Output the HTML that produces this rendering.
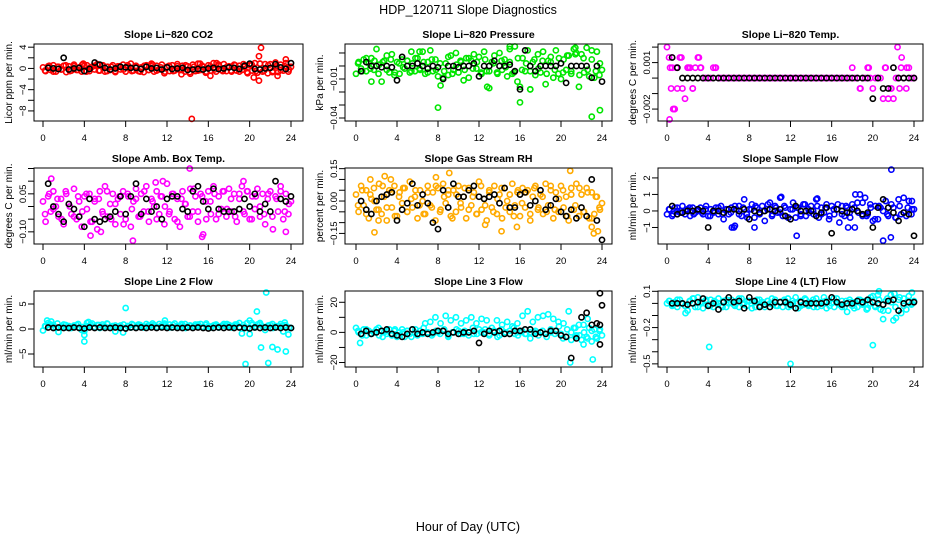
<!DOCTYPE html>
<html><head><meta charset="utf-8"><style>
body{margin:0;background:#fff}
svg{display:block;font-family:"Liberation Sans",sans-serif}
</style></head><body>
<svg id="chart" width="936" height="540" viewBox="0 0 936 540">
<rect x="0" y="0" width="936" height="540" fill="#fff"/>
<text x="468" y="14" text-anchor="middle" font-size="12.5">HDP_120711  Slope Diagnostics</text>
<text x="468" y="531" text-anchor="middle" font-size="12.5">Hour of Day (UTC)</text>
</svg>
<script>
const xTicks=[0,4,8,12,16,20,24];
const xTickLabels=['0','4','8','12','16','20','24'];

const co2Vals=[0.2,-0.5,0.4,-0.3,0.6,-0.6,0.3,-0.2,0.5,-0.7,0.4,-0.4,0.7,-0.3,0.2,-0.6,0.5,0.6,-0.5,0.3,-0.2,0.8,-0.4,0.5,-0.6,0.3,-0.3,0.6,-0.5,0.4,-0.2,0.7,-0.6,0.3,0.9,-0.4,0.5,-0.5,0.2,-0.7,0.6,-0.3,0.4,-0.6,0.5,-0.2,0.7,-0.9,0.3,-0.5,0.6,-0.4,0.8,-0.3,0.5,-0.6,0.4,-1.0,0.7,-0.5,0.9,-0.3,0.3,-0.8,0.6,-0.4,1.0,-0.6,0.5,-0.3,0.8,-0.5,0.4,-0.6,0.7,-0.4,0.5,-0.3,0.3,-0.7,0.6,-0.4,1.0,-0.8,0.9,-0.6,0.8,-0.9,0.8,-0.5,1.1,-0.7,0.7,-0.4,1.0,-0.6,0.3];
const co2Vals2=[-0.4,0.5,-0.6,0.3,-0.2,0.6,-0.5,0.4,-0.3,0.7,-0.6,0.2,0.5,-0.4,0.6,-0.5,0.3,-0.7,0.4,-0.2,0.6,-0.5,0.3,-0.6,0.5,-0.3,0.7,-0.4,0.2,-0.6,0.5,-0.5,0.4,-0.3,0.6,-0.7,0.3,-0.4,0.5,-0.6,0.4,-0.2,0.7,-0.5,0.3,-0.4,0.6,-0.6,0.8,-0.9,0.7,-0.5,0.9,-0.4,0.6,-0.7,0.5,-0.3,0.4,-0.2];
const co2Out=[[14.4,-9.5],[21.1,3.9],[20.9,2.3],[20.4,-1.7],[20.9,-2.3],[16.2,-1.4],[13.4,-1.1],[10.5,0.9],[23.5,1.7],[3.9,0.9],[15.2,0.9],[16.8,1.0],[22.7,-1.4]];
const co2Black=[0.1,0,-0.1,2.0,-0.2,0,0.1,-0.5,-0.1,1.1,0.7,0.1,-0.2,0,0.3,0.2,0.1,0.1,-0.1,0.3,0,0.1,-0.2,0.2,-0.1,0,0.1,-0.3,-0.2,-0.1,-0.2,0,0.1,-0.1,0,0.2,0.1,-0.1,0.5,0.9,-0.1,-0.2,0,0.1,0.8,0.2,-0.1,1.0];
const co2Ticks=[4,2,0,-2,-4,-6,-8];
const co2TickLabels=['4','','0','','\u22124','','\u22128'];

const presVals=[-0.6,0.3,-0.2,0.5,-0.4,0.2,0.6,-0.3,1.3,0.1,-1.2,0.4,0.8,-0.5,0.9,-0.7,0.3,-0.6,0.5,-0.2,0.4,-0.5,0.2,-0.4,0.6,-0.3,1.1,-0.6,0.3,1.2,-0.4,0.5,-0.8,-1.5,-0.9,0.2,-0.7,0.8,-0.3,1.0,-0.5,0.3,-1.1,0.6,-0.9,0.4,0.9,-0.2,0.7,-0.6,1.1,-0.4,-1.7,0.3,0.8,-0.5,1.0,-0.3,0.5,-0.8,1.3,-0.6,1.5,-1.2,-1.6,0.6,-0.4,1.2,-1.8,0.3,-0.7,0.9,-0.5,1.1,-1.4,0.4,0.7,-0.9,1.2,-0.6,-1.0,0.5,-0.3,0.8,-0.6,1.3,1.0,-1.6,0.9,-0.5,1.4,-0.8,1.2,-0.9,1.1,-0.7,-0.3];
const presVals2=[0.2,-0.4,0.6,-0.2,0.4,-0.6,0.3,-0.3,0.5,-0.5,0.2,-0.1,0.4,-0.4,0.6,-0.2,0.3,-0.5,0.5,-0.3,0.2,-0.4,0.7,-0.6,0.1,0.4,-0.3,0.6,-0.2,0.3,-0.5,0.5,-0.4,0.2,-0.6,0.4,-0.1,0.3,-0.5,0.6,-0.3,0.2,-0.4,0.5,-0.2,0.4,-0.6,0.3,-0.3,0.6,-0.5,0.8,-0.4,0.9,-0.7,0.6,-0.3,0.5,-0.4,0.2];
const presOut=[[8,-3.2],[16,-2.8],[17,-1.8],[12.8,-1.6],[23,-3.9],[23.8,-3.4],[15,1.5],[21.4,1.4],[1.5,-1.2],[5.4,1.1],[6.2,1.1]];
const presBlack=[-0.4,0.3,0,0,-0.1,0,-0.1,-1.1,0.7,0,0,0.2,0,-0.2,0,-0.1,-1.0,0,0,-0.1,0,0,0.2,-0.8,0,0,0.4,0,0,0.1,-0.4,-1.8,1.2,0,-0.4,0,0,0,0,0.2,-1.3,0,0,0,0,-0.9,0,-1.2];
const presTicks=[1,0,-1,-2,-3,-4];
const presTickLabels=['','','\u22120.01','','','\u22120.04'];

const tempVals=[2,-2.67,1.33,-2,0.67,1.33,-0.67,-1.33,0.67,0.67,-0.67,0.67,1.33,0.67,0,0,0,0,0.67,0.67,0,0,0,0,0,0,0,0,0,0,0,0,0,0,0,0,0,0,0,0,0,0,0,0,0,0,0,0,0,0,0,0,0,0,0,0,0,0,0,0,0,0,0,0,0,0,0,0,0,0,0,0,0.67,0,0,-0.67,0,0,0.67,0,-0.67,0,0,0,-1.33,0.67,-1.33,-0.67,-1.33,0,0,0.67,0,-0.67,0.67,0,0];
const tempOut=[[0.2,1.33],[0.3,0.67],[0.4,-0.67],[0.6,-2],[0.7,-2],[0.5,0.67],[0.9,0.67],[1.0,-0.67],[22.4,2],[22.8,1.33],[21.2,0.67],[21.8,-0.67],[22.6,-0.67],[23.3,0.67],[18.8,-0.67],[19.6,0.67],[2.1,0.67],[2.5,-0.67],[3.1,1.33],[3.3,0.67],[4.7,0.67],[1.4,1.33]];
const tempBlack=[1.33,0.67,0,0,0,0,0,0,0,0,0,0,0,0,0,0,0,0,0,0,0,0,0,0,0,0,0,0,0,0,0,0,0,0,0,0,0,0,0,-1.33,0,-0.67,-0.67,0.67,0,0,0,0];
const tempTicks=[2,1,0,-1,-2];
const tempTickLabels=['','0.001','','','\u22120.002'];

const ambVals=[0.02,-0.06,0.04,-0.02,0.06,0.0,-0.04,0.03,-0.07,0.05,0.01,-0.03,0.07,-0.05,0.02,-0.08,0.04,-0.01,0.05,-0.06,0.03,-0.09,0.06,-0.02,0.08,-0.04,0.01,0.05,-0.07,0.03,-0.03,0.06,-0.05,0.04,-0.08,0.02,0.07,-0.04,0.05,-0.02,0.08,-0.06,0.03,0.0,0.06,-0.03,0.04,-0.07,0.09,-0.02,0.05,-0.05,0.03,-0.08,0.06,0.01,-0.04,0.07,-0.02,0.04,-0.06,0.05,-0.11,0.02,0.06,-0.03,0.08,-0.05,0.04,-0.01,0.06,-0.04,0.07,-0.02,0.05,-0.06,0.03,0.08,-0.03,0.06,-0.05,0.04,-0.01,0.07,-0.04,0.05,-0.07,0.03,0.06,-0.09,0.04,-0.02,0.08,-0.05,0.05,-0.03,0.02];
const ambVals2=[-0.03,0.05,-0.01,0.03,-0.05,0.06,0.0,-0.04,0.04,-0.02,0.05,-0.06,0.02,0.03,-0.03,0.06,-0.05,0.01,0.04,-0.07,0.05,-0.01,0.03,-0.04,0.06,-0.02,0.02,-0.05,0.04,0.0,-0.03,0.05,-0.06,0.03,0.01,-0.04,0.07,-0.02,0.04,-0.05,0.02,0.05,-0.03,0.06,-0.01,0.03,-0.04,0.05,-0.02,0.06,-0.05,0.04,0.0,-0.03,0.05,-0.04,0.03,0.06,-0.02,0.01];
const ambOut=[[14.2,0.15],[8.7,-0.135],[4.6,-0.115],[15.4,-0.12],[23.5,-0.10],[0.8,0.11],[11.6,0.1],[19.4,0.1],[10.9,0.095],[5.6,-0.1]];
const ambBlack=[0.09,0.0,-0.03,-0.06,0.01,-0.01,-0.04,-0.08,0.03,-0.05,-0.06,-0.05,-0.04,-0.02,0.04,-0.03,0.04,0.09,-0.03,0.03,-0.02,0.0,-0.05,0.03,0.04,0.04,-0.01,-0.02,0.06,0.08,0.02,-0.01,0.07,-0.01,-0.02,-0.02,-0.02,-0.01,0.03,0.0,0.05,-0.02,0.01,-0.02,0.1,0.03,0.02,0.04];
const ambTicks=[0.15,0.1,0.05,0,-0.05,-0.1];
const ambTickLabels=['','','0.05','','','\u22120.10'];

const rhVals=[0.03,-0.05,0.07,-0.02,0.05,-0.08,0.01,0.06,-0.04,0.08,-0.06,0.02,-0.09,0.05,-0.03,0.07,-0.07,0.04,-0.01,0.06,-0.05,0.09,-0.03,0.02,-0.08,0.05,0.0,-0.06,0.07,-0.02,0.04,-0.09,0.06,-0.04,0.08,-0.01,0.03,-0.07,0.05,-0.05,0.07,-0.03,0.02,-0.08,0.06,-0.02,0.04,-0.06,0.09,-0.04,0.01,-0.09,0.05,-0.03,0.07,-0.06,0.03,-0.08,0.06,0.0,-0.05,0.08,-0.02,0.04,-0.07,0.06,-0.03,0.05,-0.09,0.02,0.07,-0.04,0.03,-0.06,0.08,-0.02,0.05,-0.08,0.04,-0.05,0.07,-0.03,0.02,-0.09,0.06,-0.04,0.08,-0.07,0.03,-0.05,0.06,-0.08,0.04,-0.06,0.02,-0.03,-0.01];
const rhVals2=[-0.02,0.05,-0.06,0.03,0.0,-0.04,0.07,-0.03,0.04,-0.07,0.02,0.06,-0.05,0.01,0.05,-0.02,-0.06,0.04,-0.03,0.07,-0.05,0.02,0.05,-0.08,0.03,-0.01,0.06,-0.04,0.02,-0.06,0.07,-0.02,0.04,-0.05,0.01,0.06,-0.03,0.03,-0.07,0.05,-0.01,0.04,-0.06,0.06,-0.03,0.02,-0.05,0.07,-0.04,0.01,0.05,-0.07,0.03,-0.02,0.06,-0.05,0.04,-0.08,0.02,-0.04];
const rhOut=[[1.8,-0.145],[2.2,-0.09],[2.8,0.115],[7.8,0.11],[9.1,0.13],[12.6,-0.11],[14.2,-0.14],[15.7,-0.12],[20.9,0.14],[23.2,-0.15],[23.6,-0.14],[23,-0.12],[1.4,0.1],[3.4,0.1]];
const rhBlack=[0.0,-0.04,-0.06,0.0,0.02,0.03,0.04,-0.09,-0.04,-0.01,0.08,-0.02,0.03,-0.01,-0.1,-0.13,0.05,-0.03,0.08,0.02,0.02,0.05,0.07,0.02,0.01,0.02,0.03,-0.01,0.06,-0.03,-0.03,0.03,0.04,-0.02,0.0,0.05,-0.04,-0.02,0.01,-0.05,-0.07,-0.04,-0.08,-0.03,-0.07,0.1,-0.09,-0.18];
const rhTicks=[0.15,0.1,0.05,0,-0.05,-0.1,-0.15];
const rhTickLabels=['0.15','','','0.00','','','\u22120.15'];

const flowVals=[-0.2,0.1,-0.3,0.2,0.0,-0.1,0.3,-0.2,0.1,-0.3,0.2,-0.1,0.0,0.2,-0.2,0.1,-0.3,0.1,-0.1,0.2,-0.2,0.3,-0.5,0.1,-0.2,0.2,-1.0,0.1,0.3,-0.3,0.7,-0.2,0.1,0.4,-0.4,0.2,-0.1,0.3,-0.6,0.1,0.5,-0.2,0.3,-0.1,0.8,-0.3,0.2,-0.4,0.1,0.5,-0.4,0.2,-0.2,0.4,-0.3,0.1,0.3,-0.2,0.7,-0.4,0.2,-0.1,0.4,-0.5,0.3,-0.2,0.1,-0.7,0.3,-0.3,0.2,-0.1,0.4,-1.0,0.5,1.0,-0.3,0.8,-0.2,0.4,-0.6,0.3,-0.5,0.2,-1.8,0.6,-0.3,-1.6,0.2,-0.4,0.7,-0.2,0.8,-0.3,0.6,-0.2,0.1];
const flowVals2=[0.1,-0.2,0.2,-0.1,0.0,0.2,-0.2,0.1,-0.1,0.3,-0.3,0.0,0.2,-0.2,0.1,-0.1,0.3,-0.2,0.2,-0.4,0.1,0.3,-0.2,0.0,0.4,-0.3,0.2,-0.1,0.3,-0.4,0.1,0.2,-0.3,0.4,-0.1,0.0,0.3,-0.2,0.2,-0.3,0.1,0.4,-0.2,0.3,-0.4,0.2,-0.1,0.5,-0.3,0.2,-0.5,0.3,0.0,-0.2,0.4,-0.4,0.3,-0.1,0.2,0.1];
const flowOut=[[21.8,2.5],[12.6,-1.5],[6.3,-1.0],[6.6,-0.9],[8.5,-1.0],[14.6,0.75],[11.1,0.85],[18.3,1.0],[17.6,-1.0],[23.8,0.6]];
const flowBlack=[0.3,-0.2,-0.1,0.0,0.0,0.1,0.0,-1.0,0.0,0.0,-0.1,0.1,0.1,0.0,0.1,-0.5,0.0,-0.1,0.0,0.1,0.0,0.1,-0.3,-0.5,0.3,0.0,0.0,0.0,-0.3,-0.1,0.2,-1.35,0.1,0.0,-0.1,0.1,0.0,-0.2,-0.1,-1.0,0.2,0.7,0.2,-0.1,-0.6,-0.1,-0.2,-1.5];
const flowTicks=[2,1,0,-1];
const flowTickLabels=['2','1','0','\u22121'];

const l2Vals=[-0.3,0.5,1.2,0.9,0.8,0.2,-0.6,0.4,0.9,0.3,0.6,0.2,0.5,0.8,0.3,-0.2,-0.4,1.2,0.6,1.1,0.4,0.8,0.2,0.9,0.5,1.0,0.3,0.6,-0.5,0.4,0.7,-0.7,0.2,0.5,0.3,0.8,0.4,0.9,0.6,0.3,1.0,0.5,0.7,0.8,0.4,1.0,0.6,1.1,0.5,0.9,0.3,1.1,0.6,0.4,0.8,1.0,0.5,0.7,0.3,0.9,0.6,1.0,0.4,0.8,0.5,0.3,0.7,0.9,0.4,0.6,1.0,0.5,0.8,0.3,0.6,0.9,1.2,-0.9,0.4,1.2,-1.0,0.8,0.3,0.9,1.2,0.5,-0.2,0.6,0.8,0.2,0.6,0.5,1.0,-0.5,0.7,-1.1,0.2];
const l2Vals2=[0.6,0.9,0.3,1.1,0.5,0.8,0.2,0.7,1.0,0.4,0.6,0.9,0.3,0.8,0.5,1.1,0.4,0.7,0.2,0.9,0.6,1.0,0.3,0.8,0.5,0.7,1.1,0.4,0.6,0.9,0.3,0.8,0.5,1.0,0.2,0.7,0.6,0.9,0.4,1.1,0.5,0.8,0.3,0.7,1.0,0.6,0.9,0.4,0.8,0.2,1.2,0.5,0.9,0.3,0.7,1.0,0.4,0.6,0.8,0.3];
const l2Out=[[4,-2.5],[4,-1.2],[8,4.2],[11.8,1.7],[19.6,-7.0],[20,1.7],[20.7,3.5],[21.1,-3.7],[21.6,7.3],[21.8,-6.8],[22.2,-3.6],[22.7,-4.1],[23.4,1.3],[23.5,-4.5],[0.4,1.7],[0.8,1.5],[4.4,1.4]];
const l2Black=[0.3,0.2,0.3,0.2,0.2,0.3,0.2,0.1,0.3,0.2,0.3,0.2,0.2,0.3,0.2,0.1,0.3,0.2,0.3,0.2,0.3,0.2,0.3,0.2,0.3,0.2,0.2,0.3,0.2,0.3,0.2,0.1,0.2,0.3,0.2,0.3,0.2,0.3,0.2,0.1,0.3,0.2,0.3,0.2,0.3,0.2,0.3,0.2];
const l2Ticks=[5,0,-5];
const l2TickLabels=['5','0','\u22125'];

const l3Vals=[3,0,-1,2,-2,1,-1,0,2,-2,1,0,-1,2,-2,1,-3,0,2,-3,1,-1,2,0,-2,1,-1,6,0,7,-1,10,0,6,1,11,-2,8,0,10,1,6,-1,8,0,10,-1,6,2,9,0,8,-1,3,1,8,-2,5,0,7,1,4,-1,6,0,11,-1,14,0,7,1,10,0,11,-1,12,0,9,1,7,-1,6,-3,14,0,3,-2,5,-5,0,-3,3,-6,2,-4,1,-2];
const l3Vals2=[1,-2,2,-1,0,3,-3,1,-1,2,-2,0,1,-3,2,-1,3,0,-2,1,-1,2,-3,0,2,-1,1,-2,3,-1,0,2,-2,1,-3,2,0,-1,3,-2,1,-1,2,0,-2,1,-3,2,-1,4,-4,2,-5,3,-2,5,-4,1,-3,2];
const l3Out=[[0.4,-7],[20.9,-20],[23.1,-18],[22.2,-8],[22.6,9],[21.4,-3],[23.5,-4],[17,-4]];
const l3Black=[-1,1,-1,0,1,2,-1,-2,-3,-1,2,-1,0,-1,0,1,1,-1,0,-1,0,0,1,-7,-1,1,0,1,-1,-1,1,1,2,2,-1,0,-1,1,1,-2,-3,-17,-4,10,13,5,6,18];
const l3BlackOut=[[23.8,26],[23.8,-8],[23.8,5]];
const l3Ticks=[20,10,0,-10,-20];
const l3TickLabels=['20','','0','','\u221220'];

const l4Vals=[0.0,0.02,-0.02,0.01,-0.03,0.03,0.0,-0.02,-0.06,0.02,0.04,-0.03,0.05,0.01,-0.04,0.02,-0.01,0.03,-0.03,0.01,0.04,-0.02,0.02,-0.03,0.0,0.03,-0.01,0.02,-0.03,0.04,0.0,-0.02,0.02,-0.04,0.01,0.03,-0.02,0.01,-0.03,0.02,0.0,-0.01,0.03,-0.02,0.01,-0.03,0.02,0.04,-0.02,0.0,0.05,-0.04,0.02,-0.01,0.03,-0.02,0.01,-0.03,0.04,0.0,-0.02,0.05,-0.04,0.02,0.0,-0.03,0.04,-0.01,0.02,-0.03,-0.07,0.03,-0.02,0.01,-0.03,0.03,-0.01,0.02,-0.04,0.0,0.06,-0.03,0.07,-0.05,-0.13,0.02,-0.06,0.07,-0.14,-0.12,0.03,-0.08,0.04,-0.05,0.06,-0.01,0.02];
const l4Vals2=[0.02,-0.01,0.03,0.0,-0.02,0.02,0.04,-0.03,0.01,0.03,-0.02,0.02,0.0,-0.03,0.03,0.01,-0.02,0.04,-0.01,0.02,0.0,-0.03,0.03,-0.01,0.02,0.04,-0.02,0.01,0.03,-0.03,0.02,0.0,-0.02,0.04,-0.01,0.03,-0.03,0.01,0.02,-0.02,0.04,0.0,-0.03,0.02,0.01,-0.04,0.03,0.0,-0.05,0.05,-0.02,0.03,-0.06,0.04,0.01,-0.03,0.05,-0.02,0.02,0.0];
const l4Out=[[4.1,-0.36],[12,-0.5],[20,-0.345],[20.6,0.1],[22.1,0.08],[23.8,0.09],[1.8,-0.08]];
const l4Black=[0.0,0.0,0.0,-0.01,0.0,0.01,0.04,-0.02,0.0,-0.05,0.01,0.05,0.01,0.02,-0.04,0.05,0.02,-0.03,-0.01,-0.03,0.01,0.01,0.01,-0.01,-0.04,0.01,0.0,0.0,0.0,0.0,0.01,0.05,0.01,-0.01,0.0,0.0,0.02,0.01,0.03,0.01,0.0,-0.01,0.02,0.03,-0.06,0.0,0.01,0.01];
const l4Ticks=[0.1,0,-0.1,-0.2,-0.3,-0.4,-0.5];
const l4TickLabels=['0.1','','','\u22120.2','','','\u22120.5'];

const NS='http://www.w3.org/2000/svg';
const svg=document.getElementById('chart');
const colBox=[[34,303,43,291],[345,612,356,602],[658,923,667,914]];
const rowBox=[[44,121],[168,244],[291,367]];
const panels=[
 {id:'co2',title:'Slope Li\u2212820 CO2',ylab:'Licor ppm per min.',col:'#ff0000',r:0,c:0,lo:-9.9,hi:4.6,v:co2Vals,v2:co2Vals2,o:co2Out,b:co2Black,bo:[],t:co2Ticks,tl:co2TickLabels},
 {id:'pressure',title:'Slope Li\u2212820 Pressure',ylab:'kPa per min.',col:'#00e600',r:0,c:1,lo:-4.23,hi:1.69,v:presVals,v2:presVals2,o:presOut,b:presBlack,bo:[],t:presTicks,tl:presTickLabels},
 {id:'li820-temp',title:'Slope Li\u2212820 Temp.',ylab:'degrees C per min.',col:'#ff00ff',r:0,c:2,lo:-2.77,hi:2.2,v:tempVals,v2:[],o:tempOut,b:tempBlack,bo:[],t:tempTicks,tl:tempTickLabels},
 {id:'amb-temp',title:'Slope Amb. Box Temp.',ylab:'degrees C per min.',col:'#ff00ff',r:1,c:0,lo:-0.148,hi:0.152,v:ambVals,v2:ambVals2,o:ambOut,b:ambBlack,bo:[],t:ambTicks,tl:ambTickLabels},
 {id:'rh',title:'Slope Gas Stream RH',ylab:'percent per min.',col:'#ffaa00',r:1,c:1,lo:-0.199,hi:0.153,v:rhVals,v2:rhVals2,o:rhOut,b:rhBlack,bo:[],t:rhTicks,tl:rhTickLabels},
 {id:'sample-flow',title:'Slope Sample Flow',ylab:'ml/min per min.',col:'#0000ff',r:1,c:2,lo:-2.0,hi:2.6,v:flowVals,v2:flowVals2,o:flowOut,b:flowBlack,bo:[],t:flowTicks,tl:flowTickLabels},
 {id:'line2',title:'Slope Line 2 Flow',ylab:'ml/min per min.',col:'#00ffff',r:2,c:0,lo:-7.6,hi:7.6,v:l2Vals,v2:l2Vals2,o:l2Out,b:l2Black,bo:[],t:l2Ticks,tl:l2TickLabels},
 {id:'line3',title:'Slope Line 3 Flow',ylab:'ml/min per min.',col:'#00ffff',r:2,c:1,lo:-23,hi:27.5,v:l3Vals,v2:l3Vals2,o:l3Out,b:l3Black,bo:l3BlackOut,t:l3Ticks,tl:l3TickLabels},
 {id:'line4',title:'Slope Line 4 (LT) Flow',ylab:'ml/min per min.',col:'#00ffff',r:2,c:2,lo:-0.526,hi:0.1025,v:l4Vals,v2:l4Vals2,o:l4Out,b:l4Black,bo:[],t:l4Ticks,tl:l4TickLabels}
];
const R=2.6;
function mk(tag,attrs,parent){const e=document.createElementNS(NS,tag);for(const k in attrs)e.setAttribute(k,attrs[k]);parent.appendChild(e);return e;}
panels.forEach(p=>{
 const [bx0,bx1,px0,px1]=colBox[p.c];const [by0,by1]=rowBox[p.r];
 const xs=h=>px0+(px1-px0)*h/24;
 const ys=v=>by1-(by1-by0)*(v-p.lo)/(p.hi-p.lo);
 const g=mk('g',{},svg);
 
 
 const t=mk('text',{x:(bx0+bx1)/2,y:by0-6,'text-anchor':'middle','font-size':'10.5','font-weight':'bold'},g);
 t.textContent=p.title;
 
 
 const yl=mk('text',{x:bx0-22,y:(by0+by1)/2,'text-anchor':'middle','font-size':'10',transform:`rotate(-90 ${bx0-22} ${(by0+by1)/2})`},g);
 yl.textContent=p.ylab;
 
 
 const pts=mk('g',{fill:'none','stroke-width':'1.6'},g);
 
 
 const n=p.v.length;
 p.v.forEach((v,i)=>{
  const c=mk('circle',{cx:xs(i*24/(n-1)),cy:ys(v),r:R,stroke:p.col},pts);
  
  
 });
 const n2=p.v2.length;
 p.v2.forEach((v,i)=>{
  const c=mk('circle',{cx:xs(0.2+i*23.6/(n2-1)),cy:ys(v),r:R,stroke:p.col},pts);
  
  
 });
 p.o.forEach(d=>{
  const c=mk('circle',{cx:xs(d[0]),cy:ys(d[1]),r:R,stroke:p.col},pts);
  
  
 });
 const bp=mk('g',{fill:'none','stroke-width':'1.6',stroke:'#000'},g);
 
 
 p.b.forEach((v,i)=>{
  const c=mk('circle',{cx:xs(0.5*(i+1)),cy:ys(v),r:R},bp);
  
  
 });
 p.bo.forEach(d=>{
  const c=mk('circle',{cx:xs(d[0]),cy:ys(d[1]),r:R},bp);
  
  
 });
 const box=mk('rect',{x:bx0,y:by0,width:bx1-bx0,height:by1-by0,fill:'none',stroke:'#000','stroke-width':'1'},g);
 
 
 xTicks.forEach((h,i)=>{
  const l=mk('line',{x1:xs(h),x2:xs(h),y1:by1,y2:by1+6,stroke:'#000'},g);
  
  
  const tx=mk('text',{x:xs(h),y:by1+20,'text-anchor':'middle','font-size':'9.5'},g);
  tx.textContent=xTickLabels[i];
  
  
 });
 p.t.forEach((v,i)=>{
  const y=ys(v);
  const l=mk('line',{x1:bx0-6,x2:bx0,y1:y,y2:y,stroke:'#000'},g);
  
  
  if(p.tl[i]){
   const tx=mk('text',{x:bx0-8,y:y,'text-anchor':'middle','font-size':'9.5',transform:`rotate(-90 ${bx0-8} ${y})`},g);
   tx.textContent=p.tl[i];
   
   
  }
 });
});
</script>
</body></html>
